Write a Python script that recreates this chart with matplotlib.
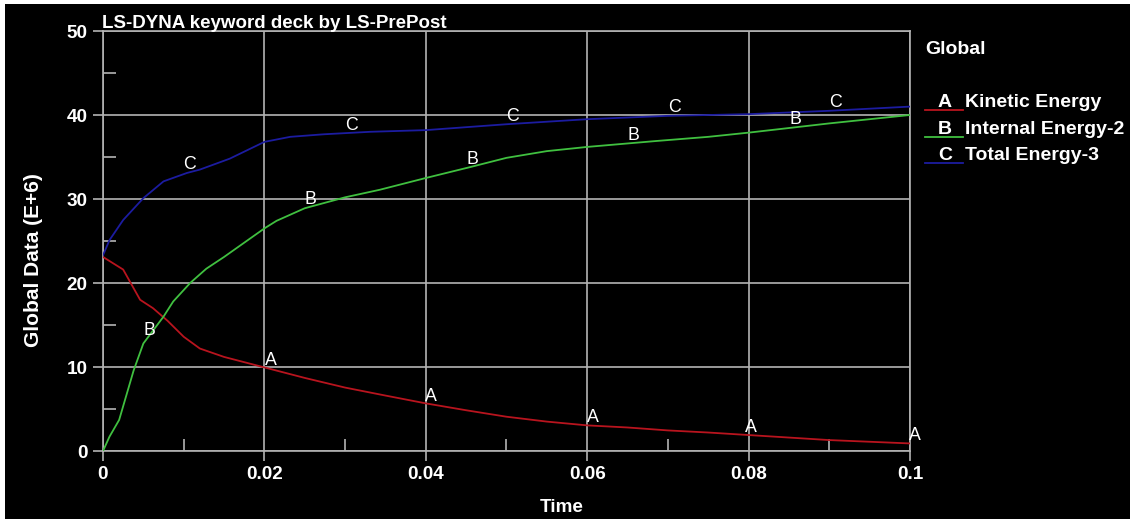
# LS-PrePost style energy history plot (kinetic / internal / total)

import matplotlib
matplotlib.use('Agg')
import matplotlib.pyplot as plt
from matplotlib.patches import Rectangle
from matplotlib.lines import Line2D
from matplotlib import font_manager
import numpy as np

# curve data (time, value in E+6)
t_kin = [0, 0.002, 0.0025, 0.0046, 0.0062, 0.008, 0.010, 0.012, 0.015, 0.020, 0.025,
         0.030, 0.035, 0.040, 0.045, 0.050, 0.055, 0.060, 0.065, 0.070, 0.075,
         0.080, 0.085, 0.090, 0.095, 0.100]
kinetic = [23.1, 21.9, 21.6, 18.0, 17.0, 15.5, 13.6, 12.2, 11.2, 9.95, 8.7,
           7.55, 6.6, 5.67, 4.85, 4.08, 3.5, 3.05, 2.8, 2.45, 2.2,
           1.9, 1.6, 1.3, 1.1, 0.9]

t_int = [0, 0.0008, 0.002, 0.0038, 0.005, 0.0075, 0.0087, 0.0108, 0.0128, 0.015,
         0.020, 0.0215, 0.025, 0.030, 0.0343, 0.040, 0.0455, 0.050, 0.055, 0.060,
         0.0685, 0.075, 0.080, 0.090, 0.095, 0.100]
internal = [0, 1.7, 3.7, 9.6, 12.8, 16.0, 17.8, 20.0, 21.7, 23.1,
            26.5, 27.4, 28.9, 30.2, 31.1, 32.5, 33.8, 34.9, 35.7, 36.2,
            36.9, 37.4, 37.9, 39.0, 39.5, 40.0]

t_tot = [0, 0.0008, 0.0025, 0.005, 0.0075, 0.0104, 0.012, 0.0157, 0.020, 0.0232,
         0.0273, 0.0331, 0.040, 0.050, 0.060, 0.070, 0.080, 0.090, 0.100]
total = [23.3, 25.1, 27.5, 30.1, 32.1, 33.1, 33.5, 34.8, 36.8, 37.4,
         37.7, 38.0, 38.2, 38.9, 39.5, 39.9, 40.1, 40.5, 41.0]

names = ['Kinetic Energy', 'Internal Energy-2', 'Total Energy-3']
letters = ['A', 'B', 'C']
colors = ['#b8141e', '#40c040', '#1c1ca0']
# where the curve letters sit
label_t = [[0.0205, 0.0404, 0.0604, 0.080, 0.1003],
           [0.0055, 0.0255, 0.0455, 0.0655, 0.0855],
           [0.0105, 0.0305, 0.0505, 0.0705, 0.0905]]

W, H = 1130, 519
grid_c = '#b4b4b4'
plain = ['Liberation Sans', 'DejaVu Sans']
have = {f.name for f in font_manager.fontManager.ttflist}
narrow = ['Liberation Sans Narrow'] + plain if 'Liberation Sans Narrow' in have else plain
# without a narrow face, shrink a little to keep the widths close
nk = 1.0 if narrow[0] == 'Liberation Sans Narrow' else 0.88

fig = plt.figure(figsize=(W / 100, H / 100), dpi=100, facecolor='white')
# black canvas (thin white strip left and top like the screenshot)
fig.patches.append(Rectangle((5 / W, 0), 1 - 5 / W, 515 / H,
                             transform=fig.transFigure, facecolor='black',
                             edgecolor='none', zorder=-10))

ax = fig.add_axes([103 / W, 68 / H, 807 / W, 420 / H])
ax.set_facecolor('black')

series = [(t_kin, kinetic), (t_int, internal), (t_tot, total)]
for (tt, vv), c in zip(series, colors):
    ax.plot(tt, vv, color=c, lw=1.3, zorder=3)

for (tt, vv), lt, let in zip(series, label_t, letters):
    for x in lt:
        y = np.interp(x, tt, vv)
        ax.annotate(let, (x, y), xytext=(1.5, -0.5), textcoords='offset points',
                    ha='center', va='bottom', color='white', fontsize=14.5 * nk,
                    family=narrow, zorder=4, annotation_clip=False)

ax.set_xlim(0, 0.1)
ax.set_ylim(0, 50)
ax.set_xticks(np.arange(0, 0.1001, 0.02))
ax.set_xticks(np.arange(0.01, 0.1, 0.02), minor=True)
ax.set_yticks(np.arange(0, 51, 10))
ax.set_yticks(np.arange(5, 50, 10), minor=True)
ax.set_xticklabels(['0', '0.02', '0.04', '0.06', '0.08', '0.1'])
ax.set_yticklabels(['0', '10', '20', '30', '40', '50'])

ax.grid(which='major', color=grid_c, lw=1.2, zorder=1)
ax.tick_params(which='major', direction='out', length=7, width=1.2,
               color=grid_c, labelcolor='white', labelsize=15.5 * nk, pad=4)
ax.tick_params(which='minor', direction='in', length=9, width=1.2, color=grid_c)
for lab in ax.get_xticklabels() + ax.get_yticklabels():
    lab.set_family(narrow)
    lab.set_fontweight('bold')
for s in ax.spines.values():
    s.set_color(grid_c)
    s.set_linewidth(1.2)

# title and axis labels
fig.text(102 / W, 1 - 28 / H, 'LS-DYNA keyword deck by LS-PrePost', color='white',
         fontsize=13.5, fontweight='bold', family=plain, ha='left', va='baseline')
fig.text(34 / W, 1 - 260 / H, 'Global Data (E+6)', color='white', rotation=90,
         fontsize=15, fontweight='bold', family=plain, ha='center', va='center')
fig.text(562 / W, 1 - 508 / H, 'Time', color='white', fontsize=15.5 * nk,
         fontweight='bold', family=narrow, ha='center', va='center')

# legend block on the right
fig.text(925 / W, 1 - 49 / H, 'Global', color='white', fontsize=14,
         fontweight='bold', family=plain, ha='left', va='center')
row_y = [102.5, 129, 155.7]
for ry, let, name, c in zip(row_y, letters, names, colors):
    fig.lines.append(Line2D([925 / W, 963 / W], [1 - (ry + 7.5) / H] * 2,
                            transform=fig.transFigure, color=c, lw=1.3))
    fig.text(945 / W, 1 - ry / H, let, color='white', fontsize=14,
             fontweight='bold', family=plain, ha='center', va='center')
    fig.text(965 / W, 1 - ry / H, name, color='white', fontsize=14,
             fontweight='bold', family=plain, ha='left', va='center')

fig.savefig('out.png', dpi=100, facecolor='white')
